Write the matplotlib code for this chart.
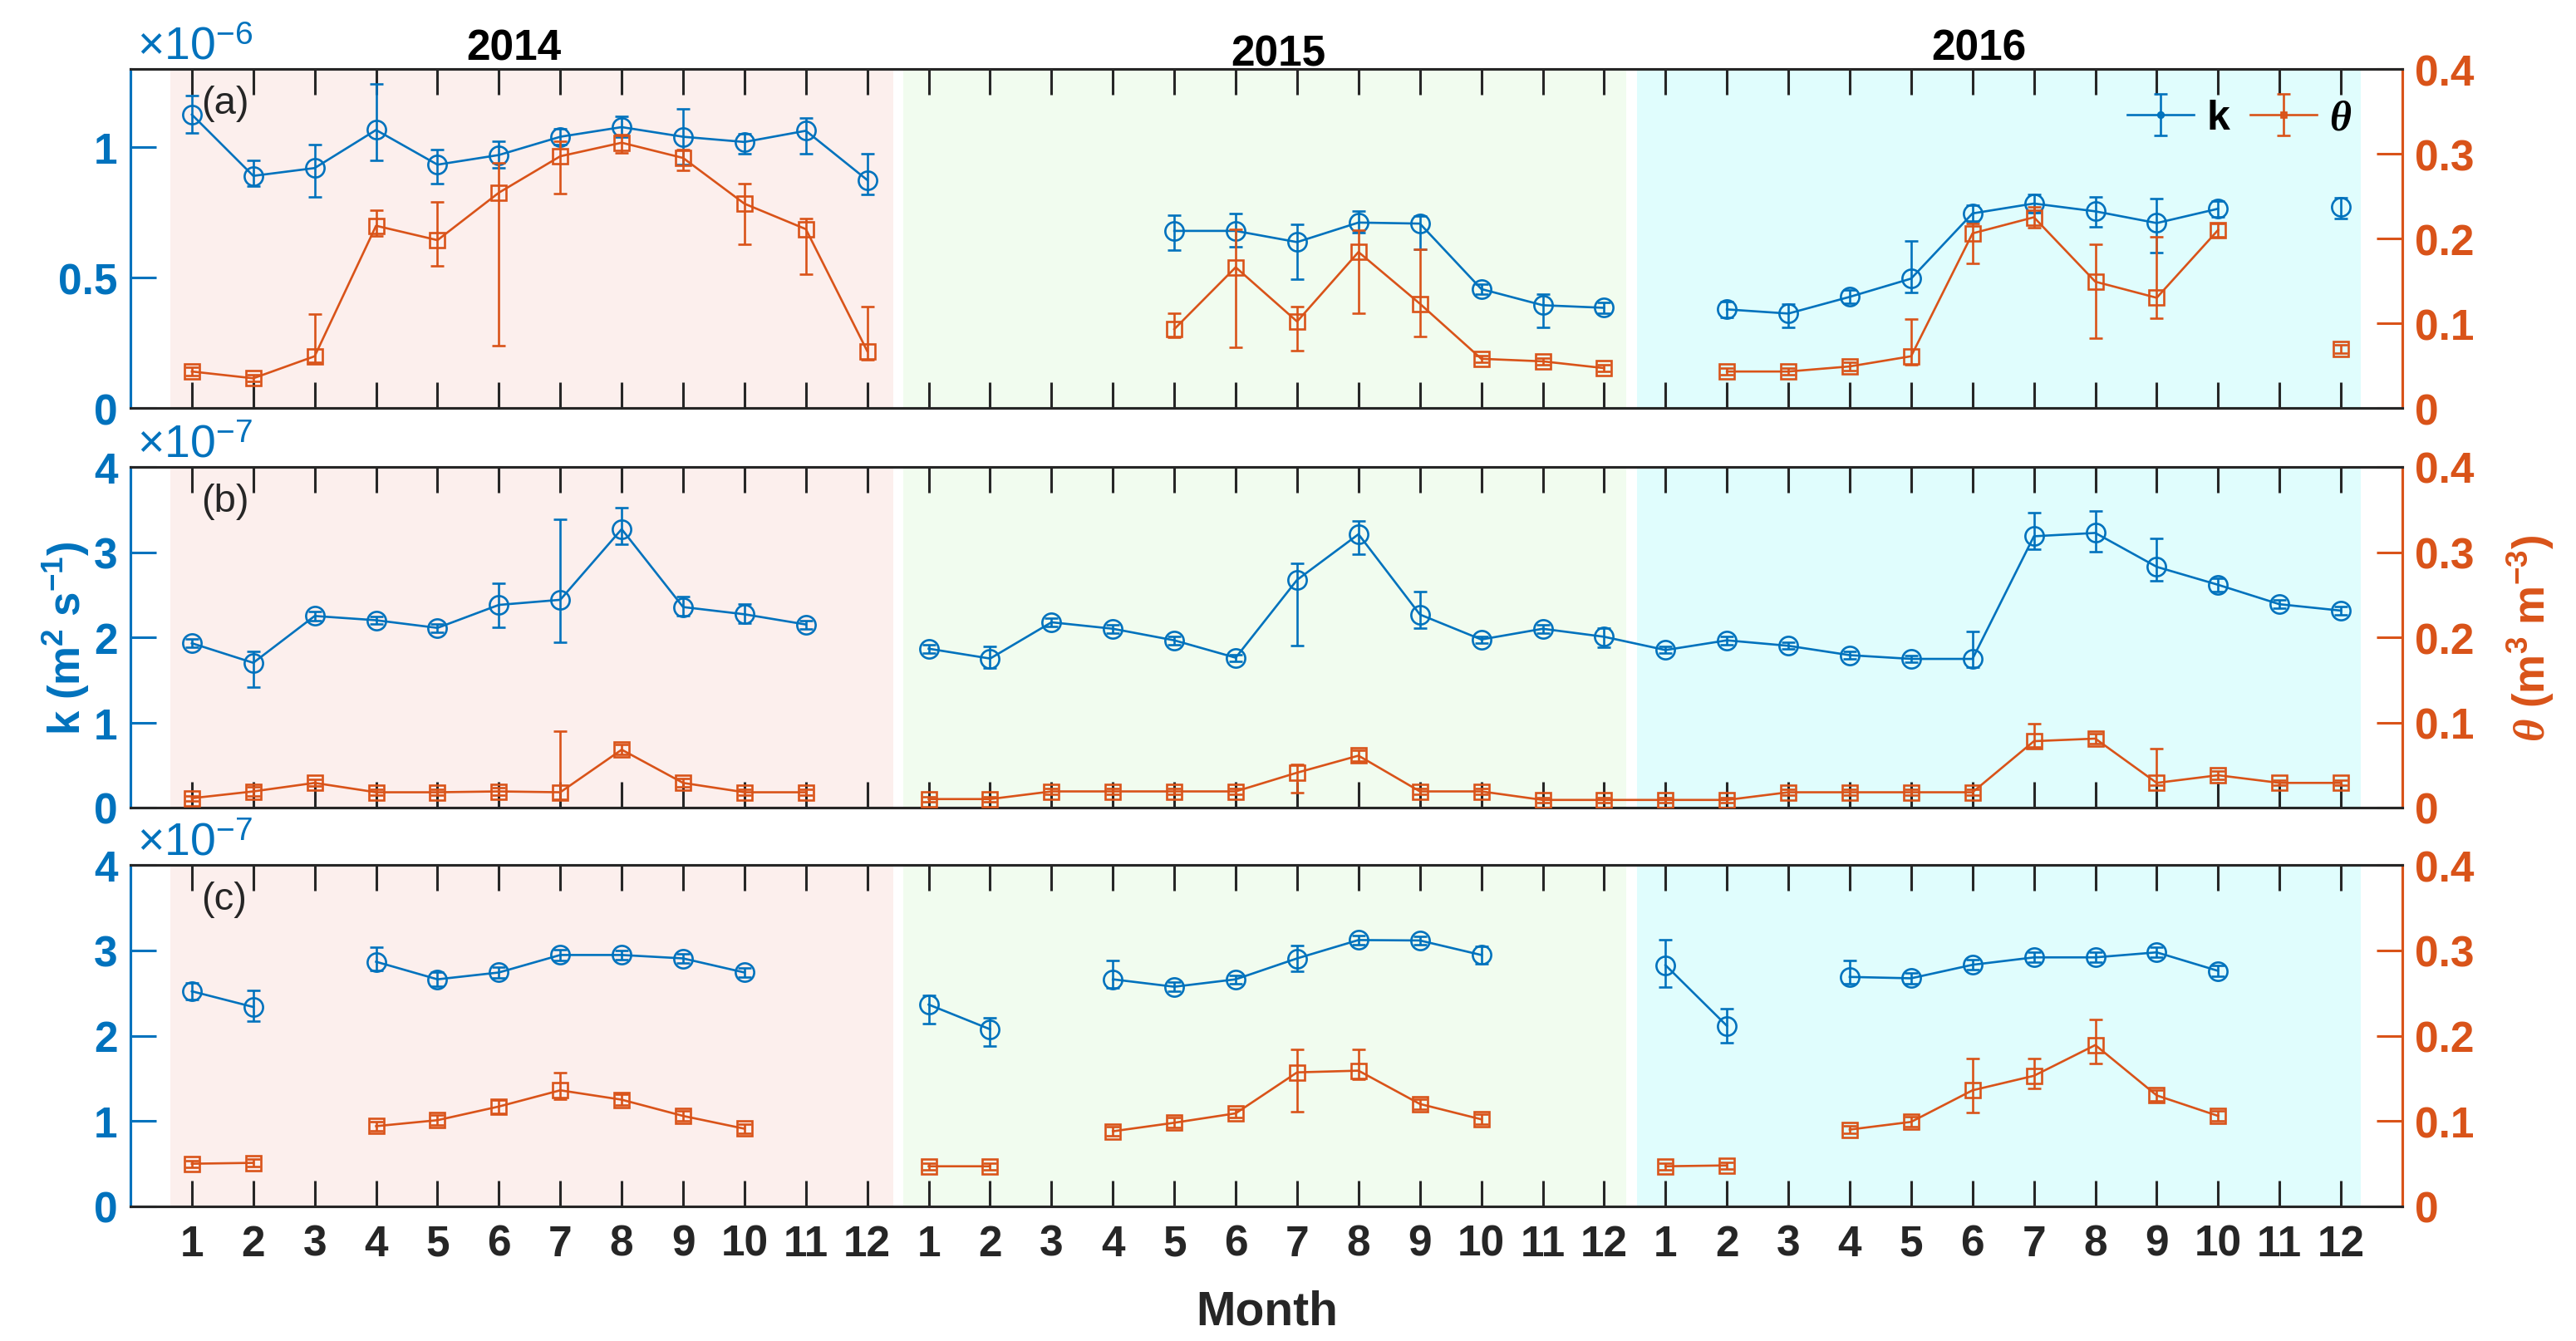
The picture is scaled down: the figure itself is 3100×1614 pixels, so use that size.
import numpy as np
import matplotlib
matplotlib.use("Agg")
import matplotlib.pyplot as plt
import matplotlib.transforms as mtrans

plt.rcParams['font.family'] = ['Liberation Sans', 'DejaVu Sans']
plt.rcParams['font.weight'] = 'bold'
plt.rcParams['mathtext.fontset'] = 'custom'
plt.rcParams['mathtext.rm'] = 'Liberation Sans:normal'
plt.rcParams['mathtext.it'] = 'Liberation Serif:italic'
plt.rcParams['mathtext.bf'] = 'Liberation Sans:bold'

nan = np.nan
years = ['2014', '2015', '2016']
month_labels = [str(m) for m in range(1, 13)] * 3
x = np.arange(1, 37)

# ---------------- panel (a): k in 1e-6 m2/s, theta in m3/m3 ----------------
k_a = [1.125, 0.89, 0.92, 1.066, 0.933, 0.97, 1.04, 1.077, 1.04, 1.02, 1.063, 0.874,
       nan, nan, nan, nan, 0.679, 0.679, 0.636, 0.711, 0.707, 0.456, 0.394, 0.384,
       nan, 0.378, 0.362, 0.426, 0.496, 0.746, 0.784, 0.754, 0.709, 0.764, nan, 0.771]
k_a_hi = [0.074, 0.059, 0.09, 0.176, 0.058, 0.053, 0.03, 0.042, 0.106, 0.03, 0.05, 0.10,
          nan, nan, nan, nan, 0.06, 0.068, 0.068, 0.045, 0.03, 0.02, 0.043, 0.02,
          nan, 0.03, 0.037, 0.025, 0.144, 0.03, 0.035, 0.056, 0.094, 0.03, nan, 0.036]
k_a_lo = [0.07, 0.04, 0.11, 0.117, 0.073, 0.05, 0.03, 0.037, 0.107, 0.045, 0.088, 0.054,
          nan, nan, nan, nan, 0.075, 0.06, 0.142, 0.04, 0.10, 0.02, 0.085, 0.02,
          nan, 0.03, 0.053, 0.025, 0.054, 0.03, 0.035, 0.06, 0.112, 0.03, nan, 0.046]
th_a = [0.043, 0.035, 0.061, 0.215, 0.198, 0.254, 0.297, 0.313, 0.295, 0.241, 0.211, 0.067,
        nan, nan, nan, nan, 0.093, 0.166, 0.102, 0.184, 0.123, 0.058, 0.055, 0.047,
        nan, 0.043, 0.043, 0.049, 0.061, 0.206, 0.225, 0.149, 0.130, 0.210, nan, 0.070]
th_a_hi = [0.005, 0.004, 0.05, 0.018, 0.045, 0.035, 0.018, 0.01, 0.01, 0.024, 0.013, 0.053,
           nan, nan, nan, nan, 0.019, 0.045, 0.018, 0.026, 0.064, 0.004, 0.004, 0.004,
           nan, 0.004, 0.004, 0.005, 0.044, 0.012, 0.012, 0.044, 0.072, 0.008, nan, 0.005]
th_a_lo = [0.005, 0.004, 0.007, 0.012, 0.03, 0.18, 0.044, 0.012, 0.015, 0.048, 0.053, 0.01,
           nan, nan, nan, nan, 0.01, 0.094, 0.034, 0.072, 0.039, 0.004, 0.004, 0.004,
           nan, 0.004, 0.004, 0.005, 0.01, 0.035, 0.012, 0.067, 0.024, 0.008, nan, 0.005]

# ---------------- panel (b): k in 1e-7 m2/s ----------------
k_b = [1.93, 1.70, 2.25, 2.20, 2.11, 2.38, 2.44, 3.27, 2.355, 2.27, 2.15, nan,
       1.866, 1.75, 2.176, 2.10, 1.964, 1.76, 2.674, 3.21, 2.267, 1.974, 2.10, 2.006,
       1.85, 1.964, 1.90, 1.79, 1.746, 1.746, 3.186, 3.225, 2.827, 2.616, 2.388, 2.313]
k_b_hi = [0.05, 0.13, 0.05, 0.04, 0.05, 0.25, 0.95, 0.25, 0.12, 0.12, 0.05, nan,
          0.05, 0.14, 0.05, 0.05, 0.05, 0.04, 0.19, 0.16, 0.27, 0.04, 0.05, 0.10,
          0.04, 0.05, 0.04, 0.04, 0.04, 0.32, 0.277, 0.26, 0.33, 0.08, 0.05, 0.05]
k_b_lo = [0.05, 0.29, 0.05, 0.04, 0.05, 0.26, 0.50, 0.18, 0.10, 0.10, 0.05, nan,
          0.05, 0.11, 0.05, 0.05, 0.05, 0.04, 0.77, 0.23, 0.16, 0.04, 0.05, 0.12,
          0.04, 0.05, 0.04, 0.04, 0.04, 0.10, 0.147, 0.22, 0.16, 0.08, 0.05, 0.05]
th_b = [0.011, 0.019, 0.029, 0.018, 0.018, 0.019, 0.018, 0.068, 0.029, 0.018, 0.018, nan,
        0.010, 0.010, 0.019, 0.019, 0.019, 0.019, 0.041, 0.061, 0.019, 0.019, 0.009, 0.009,
        0.009, 0.009, 0.018, 0.018, 0.018, 0.018, 0.078, 0.081, 0.029, 0.038, 0.029, 0.029]
th_b_hi = [0.003, 0.005, 0.004, 0.003, 0.003, 0.004, 0.072, 0.006, 0.005, 0.003, 0.003, nan,
           0.003, 0.003, 0.003, 0.003, 0.003, 0.003, 0.010, 0.006, 0.003, 0.003, 0.003, 0.003,
           0.003, 0.003, 0.003, 0.003, 0.003, 0.003, 0.021, 0.006, 0.040, 0.005, 0.003, 0.003]
th_b_lo = [0.003, 0.005, 0.004, 0.003, 0.003, 0.004, 0.008, 0.006, 0.005, 0.003, 0.003, nan,
           0.003, 0.003, 0.003, 0.003, 0.003, 0.003, 0.023, 0.006, 0.003, 0.003, 0.003, 0.003,
           0.003, 0.003, 0.003, 0.003, 0.003, 0.003, 0.007, 0.006, 0.003, 0.005, 0.003, 0.003]

# ---------------- panel (c): k in 1e-7 m2/s ----------------
k_c = [2.52, 2.336, nan, 2.866, 2.66, 2.74, 2.945, 2.945, 2.905, 2.74, nan, nan,
       2.364, 2.075, nan, 2.66, 2.573, 2.66, 2.905, 3.12, 3.115, 2.945, nan, nan,
       2.826, 2.115, nan, 2.688, 2.672, 2.83, 2.917, 2.917, 2.976, 2.759, nan, nan]
k_c_hi = [0.10, 0.19, nan, 0.17, 0.08, 0.06, 0.06, 0.05, 0.05, 0.05, nan, nan,
          0.11, 0.13, nan, 0.22, 0.05, 0.05, 0.15, 0.05, 0.05, 0.10, nan, nan,
          0.30, 0.20, nan, 0.19, 0.06, 0.06, 0.06, 0.06, 0.06, 0.06, nan, nan]
k_c_lo = [0.10, 0.17, nan, 0.10, 0.08, 0.06, 0.06, 0.05, 0.05, 0.05, nan, nan,
          0.22, 0.20, nan, 0.10, 0.05, 0.05, 0.15, 0.05, 0.05, 0.10, nan, nan,
          0.26, 0.20, nan, 0.08, 0.06, 0.06, 0.06, 0.06, 0.06, 0.06, nan, nan]
th_c = [0.050, 0.051, nan, 0.094, 0.101, 0.117, 0.136, 0.125, 0.106, 0.091, nan, nan,
        0.047, 0.047, nan, 0.088, 0.098, 0.109, 0.157, 0.159, 0.120, 0.102, nan, nan,
        0.047, 0.048, nan, 0.090, 0.099, 0.136, 0.153, 0.189, 0.130, 0.106, nan, nan]
th_c_hi = [0.004, 0.004, nan, 0.005, 0.006, 0.008, 0.021, 0.006, 0.006, 0.005, nan, nan,
           0.004, 0.004, nan, 0.005, 0.006, 0.005, 0.027, 0.025, 0.006, 0.006, nan, nan,
           0.004, 0.004, nan, 0.004, 0.006, 0.037, 0.020, 0.030, 0.006, 0.006, nan, nan]
th_c_lo = [0.004, 0.004, nan, 0.005, 0.006, 0.008, 0.010, 0.006, 0.006, 0.005, nan, nan,
           0.004, 0.004, nan, 0.005, 0.006, 0.005, 0.046, 0.010, 0.006, 0.006, nan, nan,
           0.004, 0.004, nan, 0.004, 0.006, 0.026, 0.015, 0.022, 0.006, 0.006, nan, nan]

panels = [
    dict(tag='(a)', k=k_a, klo=k_a_lo, khi=k_a_hi, th=th_a, tlo=th_a_lo, thi=th_a_hi,
         kmax=1.3, kticks=[0, 0.5, 1], kticklabels=['0', '0.5', '1'], exp='-6'),
    dict(tag='(b)', k=k_b, klo=k_b_lo, khi=k_b_hi, th=th_b, tlo=th_b_lo, thi=th_b_hi,
         kmax=4, kticks=[0, 1, 2, 3, 4], kticklabels=['0', '1', '2', '3', '4'], exp='-7'),
    dict(tag='(c)', k=k_c, klo=k_c_lo, khi=k_c_hi, th=th_c, tlo=th_c_lo, thi=th_c_hi,
         kmax=4, kticks=[0, 1, 2, 3, 4], kticklabels=['0', '1', '2', '3', '4'], exp='-7'),
]
th_ticks = [0, 0.1, 0.2, 0.3, 0.4]
th_ticklabels = ['0', '0.1', '0.2', '0.3', '0.4']

BLUE = '#0072BD'
ORANGE = '#D95319'
DARK = '#262626'
shade_spans = [(0.65, 12.43), (12.58, 24.36), (24.53, 36.33)]
shade_colors = ['#FCEFED', '#F1FCEF', '#E0FDFD']

fig = plt.figure(figsize=(31, 16.15), dpi=100)
L, W = 157 / 3100, (2891 - 157) / 3100
rects = [(L, 1 - 492 / 1615, W, 408 / 1615),
         (L, 1 - 973 / 1615, W, 410 / 1615),
         (L, 1 - 1453 / 1615, W, 411 / 1615)]

TS = 37
axes = []
for i, (p, r) in enumerate(zip(panels, rects)):
    ax = fig.add_axes(r)
    ax2 = ax.twinx()
    for (x0, x1), c in zip(shade_spans, shade_colors):
        ax.axvspan(x0, x1, color=c, lw=0, zorder=0)
    hk = ax.errorbar(x, p['k'], yerr=[p['klo'], p['khi']], color=BLUE, marker='o', ms=16,
                     mfc='none', mew=1.9, lw=1.9, elinewidth=1.9, capsize=6, capthick=2.4, zorder=3)
    ht = ax2.errorbar(x, p['th'], yerr=[p['tlo'], p['thi']], color=ORANGE, marker='s', ms=13.5,
                      mfc='none', mew=1.9, lw=1.9, elinewidth=1.9, capsize=6, capthick=2.4, zorder=3)
    ax.set_xlim(0, 37)
    ax.set_ylim(0, p['kmax'])
    ax2.set_ylim(0, 0.4)
    ax.set_xticks(x)
    if i == 2:
        ax.set_xticklabels(month_labels)
    else:
        ax.set_xticklabels([])
    ax.tick_params(axis='x', direction='in', top=True, length=22, width=2.2, color=DARK,
                   labelcolor=DARK, labelsize=TS, pad=15)
    ax.set_yticks(p['kticks'])
    ax.set_yticklabels(p['kticklabels'])
    ax.tick_params(axis='y', direction='in', length=22, width=2.2, color=BLUE,
                   labelcolor=BLUE, labelsize=TS, pad=11)
    ax2.set_yticks(th_ticks)
    ax2.set_yticklabels(th_ticklabels)
    ax2.tick_params(axis='y', direction='in', length=22, width=2.2, color=ORANGE,
                    labelcolor=ORANGE, labelsize=TS, pad=11)
    for a in (ax, ax2):
        a.spines['left'].set_color(BLUE)
        a.spines['right'].set_color(ORANGE)
        a.spines['top'].set_color(DARK)
        a.spines['bottom'].set_color(DARK)
        for s in a.spines.values():
            s.set_linewidth(2.2)
    trans = mtrans.blended_transform_factory(ax.transData, ax.transAxes)
    ax.text(1.15, 1 - 41 / 408, p['tag'], transform=trans, ha='left', va='center',
            fontsize=34, fontweight='normal', color=DARK)
    ax.text(0.003, 1 + 13 / 408, r'$\times10^{' + p['exp'] + '}$', transform=ax.transAxes,
            ha='left', va='baseline', fontsize=40, color=BLUE)
    if i == 0:
        for yr, xc, yb in zip(years, [6.24, 18.7, 30.1], [1.029, 1.012, 1.029]):
            ax.text(xc, yb, yr, transform=trans, ha='center', va='baseline',
                    fontsize=TS, fontweight='bold', color='black')
        ax2.legend([hk, ht], ['k', r'$\theta$'], loc='upper right', bbox_to_anchor=(0.985, 0.96),
                   ncol=2, frameon=False, markerscale=0.3, handlelength=1.6, handletextpad=0.3,
                   columnspacing=0.5, fontsize=36, borderaxespad=0)
    axes.append((ax, ax2))

fig.text(1525 / 3100, 1 - 1595 / 1615, 'Month', ha='center', va='baseline',
         fontsize=41, fontweight='bold', color=DARK)
fig.text(79 / 3100, 1 - 768 / 1615, r'$\mathbf{k\ (m^{2}\ s^{-1})}$', rotation=90,
         ha='center', va='center', fontsize=38, color=BLUE)
fig.text(3045 / 3100, 1 - 768 / 1615, r'$\theta\ \mathbf{(m^{3}\ m^{-3})}$', rotation=90,
         ha='center', va='center', fontsize=38, color=ORANGE)

fig.savefig('out.png', dpi=100)
